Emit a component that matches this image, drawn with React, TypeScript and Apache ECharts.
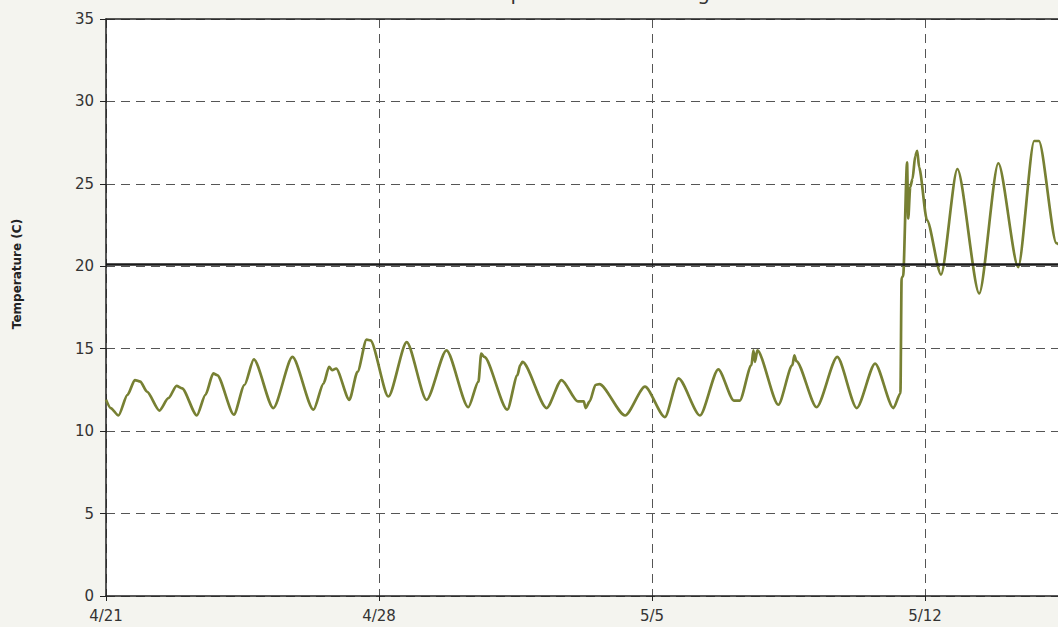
import React, { useEffect, useRef } from "react";
import * as echarts from "echarts";

// Days since 4/21 00:00
const dayOffsets: number[] = [
  0.0, 0.12, 0.32, 0.55, 0.74, 0.88, 1.05, 1.37, 1.6, 1.81, 1.95, 2.33, 2.55, 2.75, 2.85,
  3.28, 3.55, 3.79, 4.29, 4.78, 5.32, 5.58, 5.72, 5.8, 5.9, 6.24, 6.45, 6.68, 6.78, 7.24,
  7.71, 8.22, 8.73, 9.29, 9.55, 9.62, 9.7, 10.29, 10.55, 10.62, 10.68, 11.3, 11.68, 12.1,
  12.25, 12.3, 12.4, 12.55, 12.65, 13.31, 13.82, 14.33, 14.68, 15.23, 15.7, 16.1, 16.25,
  16.55, 16.6, 16.64, 16.7, 17.24, 17.6, 17.65, 17.7, 18.22, 18.75, 19.25, 19.72, 20.19,
  20.37, 20.4, 20.44, 20.54, 20.57, 20.62, 20.68, 20.75, 20.8, 20.85, 21.05, 21.41, 21.83,
  22.39, 22.88, 23.39, 23.8, 23.92, 24.37, 24.6,
];
const temperatures: number[] = [
  11.9, 11.4, 10.95, 12.2, 13.1, 13.0, 12.4, 11.25, 12.0, 12.75, 12.6, 10.95, 12.2, 13.5, 13.4,
  11.0, 12.8, 14.35, 11.4, 14.5, 11.3, 12.9, 13.9, 13.7, 13.8, 11.9, 13.6, 15.55, 15.5, 12.1,
  15.4, 11.9, 14.9, 11.45, 13.0, 14.7, 14.5, 11.3, 13.4, 14.0, 14.2, 11.4, 13.1, 11.8,
  11.8, 11.4, 11.8, 12.8, 12.85, 10.95, 12.7, 10.85, 13.2, 10.95, 13.75, 11.85, 11.85,
  14.0, 14.9, 14.2, 14.9, 11.6, 14.0, 14.6, 14.25, 11.45, 14.5, 11.4, 14.1, 11.4,
  12.3, 19.3, 19.4, 26.3, 22.9, 24.8, 25.3, 26.7, 27.0, 26.0, 22.8, 19.5, 25.9,
  18.35, 26.25, 19.95, 27.6, 27.6, 21.4, 20.8,
];
const xTickLabels: string[] = ["4/21", "4/28", "5/5", "5/12"];
const xTickDays: number[] = [0, 7, 14, 21];
const thresholdValue = 20.1;

export default function App() {
  const ref = useRef<HTMLDivElement>(null);
  useEffect(() => {
    if (!ref.current) return;
    const chart = echarts.init(ref.current, undefined, { renderer: "svg" });
    const font = "'DejaVu Sans', Verdana, sans-serif";
    const xMax = 24.41;
    chart.setOption({
      animation: false,
      backgroundColor: "#f4f4ef",
      textStyle: { fontFamily: font },
      graphic: [
        {
          type: "text",
          x: 470,
          y: 3,
          style: {
            text: "Temperature Monitoring",
            font: "20px 'DejaVu Sans', Verdana, sans-serif",
            fill: "#333",
            verticalAlign: "bottom",
          },
        },
        {
          type: "text",
          x: 17,
          y: 274,
          rotation: Math.PI / 2,
          style: {
            text: "Temperature (C)",
            font: "bold 12px 'DejaVu Sans', Verdana, sans-serif",
            fill: "#222",
            align: "center",
            verticalAlign: "middle",
          },
        },
      ],
      grid: {
        left: 106,
        top: 19,
        right: 0,
        bottom: 31,
        show: true,
        backgroundColor: "#ffffff",
        borderWidth: 0,
      },
      xAxis: [
        {
          type: "value",
          min: 0,
          max: xMax,
          interval: 7,
          axisLine: { show: true, onZero: false, lineStyle: { color: "#222", width: 1.5 } },
          axisTick: { show: true, length: 5, customValues: xTickDays, lineStyle: { color: "#222" } },
          axisLabel: {
            color: "#333",
            fontSize: 15,
            margin: 12,
            customValues: xTickDays,
            formatter: (v: number) => {
              const i = xTickDays.indexOf(Math.round(v));
              return i >= 0 ? xTickLabels[i] : "";
            },
          },
          splitLine: {
            show: true,
            lineStyle: { color: "#555", width: 1, type: [9, 6] },
          },
        },
        {
          type: "value",
          position: "top",
          min: 0,
          max: xMax,
          axisLine: { show: true, onZero: false, lineStyle: { color: "#222", width: 1.5 } },
          axisTick: { show: false },
          axisLabel: { show: false },
          splitLine: { show: false },
        },
      ],
      yAxis: {
        type: "value",
        min: 0,
        max: 35,
        interval: 5,
        axisLine: { show: true, lineStyle: { color: "#222", width: 1.5 } },
        axisTick: { show: true, length: 6, lineStyle: { color: "#222" } },
        axisLabel: { color: "#333", fontSize: 15, margin: 12 },
        splitLine: {
          show: true,
          lineStyle: { color: "#555", width: 1, type: [9, 6] },
        },
      },
      series: [
        {
          type: "line",
          xAxisIndex: 0,
          data: dayOffsets.map((d, i) => [d, temperatures[i]]),
          showSymbol: false,
          smooth: 0.25,
          smoothMonotone: "x",
          lineStyle: { color: "#778033", width: 2.7 },
          markLine: {
            silent: true,
            symbol: "none",
            label: { show: false },
            lineStyle: { color: "#1a1a1a", width: 2.5, type: "solid" },
            data: [{ yAxis: thresholdValue }],
          },
        },
      ],
    });
    return () => chart.dispose();
  }, []);
  return <div ref={ref} style={{ width: 1058, height: 627, position: "absolute", left: 0, top: 0 }} />;
}
